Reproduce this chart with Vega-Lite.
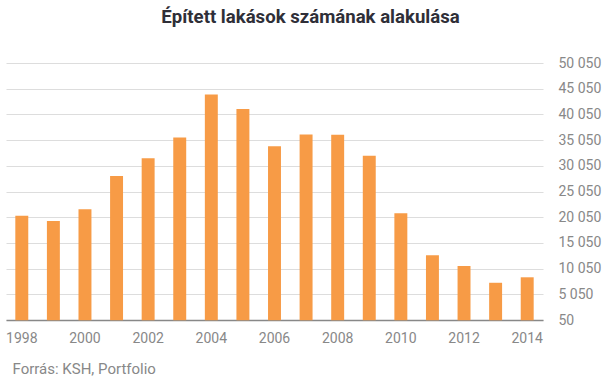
{
  "$schema": "https://vega.github.io/schema/vega-lite/v6.json",
  "autosize": {"type": "none"},
  "width": 537,
  "height": 257,
  "padding": {"left": 6, "top": 63, "right": 62, "bottom": 59},
  "background": "white",
  "title": {
    "text": "Épített lakások számának alakulása",
    "font": "Roboto",
    "fontSize": 18.6,
    "fontWeight": "bold",
    "color": "#2f2f38",
    "anchor": "middle",
    "dx": 36,
    "offset": 29
  },
  "data": {
    "values": [
      {"year": "1998", "count": 20323},
      {"year": "1999", "count": 19287},
      {"year": "2000", "count": 21583},
      {"year": "2001", "count": 28054},
      {"year": "2002", "count": 31511},
      {"year": "2003", "count": 35543},
      {"year": "2004", "count": 43913},
      {"year": "2005", "count": 41084},
      {"year": "2006", "count": 33864},
      {"year": "2007", "count": 36159},
      {"year": "2008", "count": 36075},
      {"year": "2009", "count": 31994},
      {"year": "2010", "count": 20823},
      {"year": "2011", "count": 12655},
      {"year": "2012", "count": 10560},
      {"year": "2013", "count": 7293},
      {"year": "2014", "count": 8358}
    ]
  },
  "mark": {"type": "bar", "color": "#F79B46"},
  "encoding": {
    "x": {
      "field": "year",
      "type": "ordinal",
      "scale": {"paddingInner": 0.59, "paddingOuter": 0.295},
      "axis": {
        "values": ["1998", "2000", "2002", "2004", "2006", "2008", "2010", "2012", "2014"],
        "labelAngle": 0,
        "labelFont": "Roboto",
        "labelFontSize": 14,
        "labelColor": "#888888",
        "labelPadding": 11,
        "ticks": false,
        "domainColor": "#888888",
        "domainWidth": 1.5,
        "title": "Forrás: KSH, Portfolio",
        "titleFont": "Roboto",
        "titleFontSize": 15,
        "titleFontWeight": "normal",
        "titleColor": "#888888",
        "titleAnchor": "start",
        "titleAlign": "left",
        "titleX": 6,
        "titlePadding": 16
      }
    },
    "y": {
      "field": "count",
      "type": "quantitative",
      "scale": {"domain": [50, 50050], "nice": false, "zero": false},
      "axis": {
        "orient": "right",
        "values": [50, 5050, 10050, 15050, 20050, 25050, 30050, 35050, 40050, 45050, 50050],
        "labelExpr": "replace(format(datum.value, ','), ',', ' ')",
        "labelFont": "Roboto",
        "labelFontSize": 14,
        "labelColor": "#888888",
        "labelPadding": 15,
        "ticks": false,
        "domain": false,
        "grid": true,
        "gridColor": "#dddddd",
        "gridWidth": 1,
        "title": null
      }
    }
  },
  "config": {
    "view": {"stroke": null}
  }
}
